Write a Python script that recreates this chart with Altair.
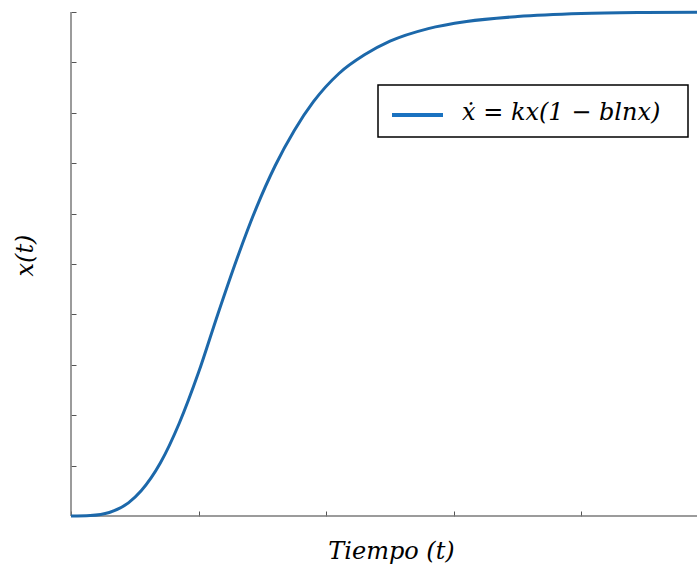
import altair as alt
import pandas as pd

# Gompertz-type growth curve x(t), sampled values
t_vals = [0.0, 0.15, 0.30, 0.45, 0.55, 0.70, 0.85, 1.00, 1.15, 1.30, 1.45,
          1.60, 1.75, 1.90, 2.10, 2.30, 2.50, 2.80, 3.10, 3.50, 4.00, 4.50, 4.91]
x_vals = [0.000, 0.001, 0.007, 0.026, 0.050, 0.105, 0.185, 0.285, 0.400, 0.510, 0.610,
          0.695, 0.765, 0.822, 0.878, 0.915, 0.942, 0.967, 0.981, 0.991, 0.997, 0.999, 0.9995]
series_name = "ẋ = kx(1 − blnx)"

x_ticks = [0, 1, 2, 3, 4]
y_ticks = [0.0, 0.1, 0.2, 0.3, 0.4, 0.5, 0.6, 0.7, 0.8, 0.9, 1.0]

df = pd.DataFrame({"t": t_vals, "x": x_vals})

W, H = 626, 504
FONT = "DejaVu Serif"
BLUE = "#1c68aa"
BLUE_KEY = "#1a72c0"

x_scale = alt.Scale(domain=[0, 4.906], nice=False, zero=False)
y_scale = alt.Scale(domain=[0, 1.0], nice=False)

curve = alt.Chart(df).mark_line(strokeWidth=3, interpolate="monotone", color=BLUE).encode(
    x=alt.X("t:Q", scale=x_scale,
            axis=alt.Axis(values=x_ticks, labels=False, domain=False, grid=False,
                          tickSize=5, tickColor="#555555", tickWidth=1, offset=-5,
                          title="Tiempo (t)", titleFont=FONT, titleFontStyle="italic",
                          titleFontWeight="normal", titleFontSize=24, titleColor="#000000",
                          titleX=320, titleY=40, titleBaseline="middle", titleAlign="center")),
    y=alt.Y("x:Q", scale=y_scale,
            axis=alt.Axis(values=y_ticks, labels=False, domain=False, grid=False,
                          tickSize=5, tickColor="#555555", tickWidth=1, offset=-5,
                          title="x(t)", titleFont=FONT, titleFontStyle="italic",
                          titleFontWeight="normal", titleFontSize=24, titleColor="#000000",
                          titleAngle=-90, titleX=-51, titleY=243,
                          titleBaseline="middle", titleAlign="center")),
)

# axis lines drawn in data space
x_axis_line = alt.Chart(pd.DataFrame({"v": [0]})).mark_rule(
    color="#7a7a7a", strokeWidth=1.5).encode(y=alt.datum(0, scale=y_scale))
y_axis_line = alt.Chart(pd.DataFrame({"v": [0]})).mark_rule(
    color="#7a7a7a", strokeWidth=1.5).encode(x=alt.datum(0, scale=x_scale))

# legend box: frame, line sample and equation label
one = pd.DataFrame({"v": [0]})
legend_box = alt.Chart(one).mark_rect(
    fill="#ffffff", stroke="#000000", strokeWidth=1.5).encode(
    x=alt.value(307), x2=alt.value(617), y=alt.value(73), y2=alt.value(125))
legend_line = alt.Chart(one).mark_rule(color=BLUE_KEY, strokeWidth=4).encode(
    x=alt.value(321), x2=alt.value(372), y=alt.value(103))
legend_text = alt.Chart(one).mark_text(
    align="left", baseline="middle", font=FONT, fontStyle="italic",
    fontSize=24, color="#000000").encode(
    x=alt.value(391), y=alt.value(101), text=alt.value(series_name))

chart = alt.layer(x_axis_line, y_axis_line, curve,
                  legend_box, legend_line, legend_text).properties(
    width=W, height=H,
    autosize=alt.AutoSizeParams(type="none"),
    padding={"left": 71, "top": 12, "right": 0, "bottom": 53},
).configure_view(stroke=None)

chart.save("out.html", embed_options={"renderer": "svg", "actions": False})
